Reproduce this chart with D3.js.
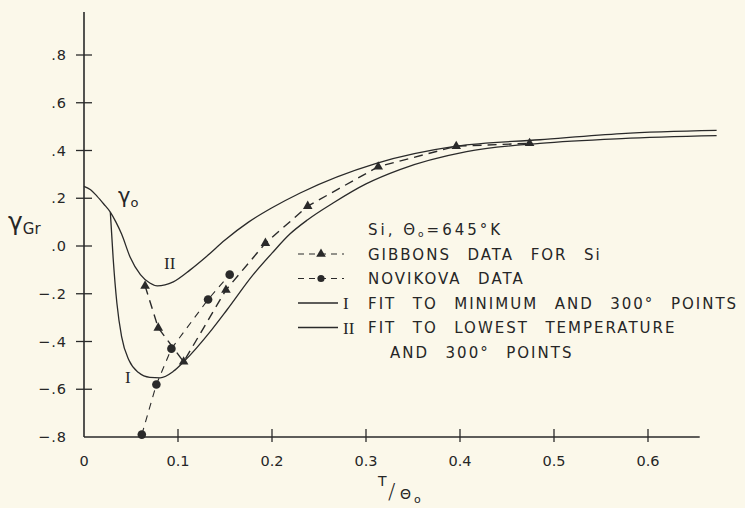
<!DOCTYPE html>
<html>
<head>
<meta charset="utf-8">
<script src="https://cdn.jsdelivr.net/npm/d3@7"></script>
<style>
  html, body { margin: 0; padding: 0; background: #fbf8ea; }
  svg { display: block; }
  text { fill: #262626; }
</style>
</head>
<body>
<div id="chart"></div>
<script>
// curve gamma_0, shared by both fits, then the two branches
const gammaZero = [[0, 0.25], [0.007, 0.236], [0.014, 0.208], [0.021, 0.176], [0.028, 0.142]];
const fitTwo = [[0.028, 0.142], [0.034, 0.10], [0.040, 0.05], [0.049, -0.046], [0.060, -0.12],
  [0.070, -0.155], [0.078, -0.167], [0.095, -0.15], [0.113, -0.10], [0.130, -0.045],
  [0.150, 0.025], [0.175, 0.10], [0.200, 0.16], [0.230, 0.222], [0.311, 0.346],
  [0.396, 0.418], [0.485, 0.445], [0.572, 0.471], [0.673, 0.484]];
const fitOne = [[0.028, 0.142], [0.031, -0.05], [0.035, -0.24], [0.040, -0.38], [0.048, -0.48],
  [0.058, -0.53], [0.070, -0.55], [0.081, -0.552], [0.095, -0.525], [0.106, -0.485],
  [0.136, -0.35], [0.152, -0.268], [0.180, -0.12], [0.200, -0.03], [0.219, 0.05],
  [0.238, 0.11], [0.265, 0.18], [0.300, 0.26], [0.336, 0.32], [0.407, 0.395],
  [0.485, 0.43], [0.572, 0.45], [0.673, 0.462]];
const gibbons = [[0.065, -0.167], [0.079, -0.343], [0.106, -0.485], [0.151, -0.184],
  [0.193, 0.012], [0.238, 0.167], [0.313, 0.332], [0.396, 0.418], [0.474, 0.43]];
const novikova = [[0.0615, -0.79], [0.077, -0.58], [0.093, -0.43], [0.132, -0.224], [0.155, -0.12]];

const xTicks = [0, 0.1, 0.2, 0.3, 0.4, 0.5, 0.6];
const xTickLabels = ["0", "0.1", "0.2", "0.3", "0.4", "0.5", "0.6"];
const yTicks = [-0.8, -0.6, -0.4, -0.2, 0, 0.2, 0.4, 0.6, 0.8];
const yTickLabels = ["\u2212.8", "\u2212.6", "\u2212.4", "\u2212.2", ".0", ".2", ".4", ".6", ".8"];

const legendRows = [
  { kind: "tri", label: "GIBBONS  DATA  FOR  Si" },
  { kind: "dot", label: "NOVIKOVA  DATA" },
  { kind: "one", label: "FIT  TO  MINIMUM  AND  300\u00b0  POINTS" },
  { kind: "two", label: "FIT  TO  LOWEST  TEMPERATURE" }
];

const width = 745, height = 508;
const ink = "#2a2a2a";
const sans = "DejaVu Sans, sans-serif";
const serif = "Liberation Serif, serif";

const svg = d3.select("#chart").append("svg")
  .attr("width", width)
  .attr("height", height)
  .style("font-family", sans);

svg.append("rect").attr("width", width).attr("height", height).attr("fill", "#fbf8ea");

const x = d3.scaleLinear().domain([0, 0.6]).range([84, 648]);
const y = d3.scaleLinear().domain([-0.8, 0.8]).range([437, 55]);

// axis lines, ticks cross the axis like the hand-drawn original
svg.append("line")
  .attr("x1", x(0)).attr("x2", x(0))
  .attr("y1", 12).attr("y2", y(-0.8))
  .attr("stroke", ink).attr("stroke-width", 1.6);
svg.append("line")
  .attr("x1", x(0)).attr("x2", x(0.655))
  .attr("y1", y(-0.8)).attr("y2", y(-0.8))
  .attr("stroke", ink).attr("stroke-width", 1.6);

svg.selectAll(".ytick").data(yTicks.filter(d => d > -0.8)).enter().append("line")
  .attr("x1", x(0) - 8).attr("x2", x(0) + 8)
  .attr("y1", d => y(d)).attr("y2", d => y(d))
  .attr("stroke", ink).attr("stroke-width", 1.3);
svg.selectAll(".xtick").data(xTicks.filter(d => d > 0)).enter().append("line")
  .attr("x1", d => x(d)).attr("x2", d => x(d))
  .attr("y1", y(-0.8) - 8).attr("y2", y(-0.8) + 5)
  .attr("stroke", ink).attr("stroke-width", 1.3);

svg.selectAll(".ylab").data(yTicks).enter().append("text")
  .attr("x", 67).attr("y", d => y(d) + 5)
  .attr("text-anchor", "end")
  .attr("font-size", 14.5)
  .attr("letter-spacing", 1)
  .text((d, i) => yTickLabels[i]);

svg.selectAll(".xlab").data(xTicks).enter().append("text")
  .attr("x", d => x(d)).attr("y", 466)
  .attr("text-anchor", "middle")
  .attr("font-size", 14.5)
  .text((d, i) => xTickLabels[i]);

// curves
const smooth = d3.line().x(d => x(d[0])).y(d => y(d[1])).curve(d3.curveMonotoneX);
const straight = d3.line().x(d => x(d[0])).y(d => y(d[1]));

svg.append("path").attr("d", smooth(gammaZero.concat(fitTwo.slice(1))))
  .attr("fill", "none").attr("stroke", ink).attr("stroke-width", 1.3);
svg.append("path").attr("d", smooth(fitOne))
  .attr("fill", "none").attr("stroke", ink).attr("stroke-width", 1.3);

svg.append("path").attr("d", straight(gibbons))
  .attr("fill", "none").attr("stroke", ink).attr("stroke-width", 1.4)
  .attr("stroke-dasharray", "9,6");
svg.append("path").attr("d", straight(novikova))
  .attr("fill", "none").attr("stroke", ink).attr("stroke-width", 1.1)
  .attr("stroke-dasharray", "7,6");

const tri = d3.symbol().type(d3.symbolTriangle).size(40);
svg.selectAll(".tri").data(gibbons).enter().append("path")
  .attr("d", tri)
  .attr("transform", d => `translate(${x(d[0])},${y(d[1])})`)
  .attr("fill", ink);
svg.selectAll(".dot").data(novikova).enter().append("circle")
  .attr("cx", d => x(d[0])).attr("cy", d => y(d[1]))
  .attr("r", 4.3)
  .attr("fill", ink);

// curve labels
const g0 = svg.append("text").attr("x", 118).attr("y", 203).attr("font-size", 21);
g0.append("tspan").text("\u03b3");
g0.append("tspan").attr("font-size", 13).attr("dy", 4).text("o");
svg.append("text").attr("x", 164).attr("y", 269).style("font-family", serif)
  .attr("font-size", 17).text("II");
svg.append("text").attr("x", 125).attr("y", 383).style("font-family", serif)
  .attr("font-size", 17).text("I");

// axis titles
const yt = svg.append("text").attr("x", 8).attr("y", 230).attr("font-size", 25);
yt.append("tspan").text("\u03b3");
yt.append("tspan").attr("font-size", 15).attr("dy", 4).text("Gr");

svg.append("text").attr("x", 378).attr("y", 486).attr("font-size", 14).text("T");
svg.append("text").attr("x", 388).attr("y", 499).attr("font-size", 22).style("font-weight", 300).text("/");
svg.append("text").attr("x", 400).attr("y", 499).attr("font-size", 14).text("\u0398");
svg.append("text").attr("x", 414).attr("y", 503).attr("font-size", 11).text("o");

// legend
const lx = 298, ly0 = 254, lstep = 24.5, tx = 368;
const title = svg.append("text").attr("x", tx).attr("y", 235).attr("font-size", 15).attr("letter-spacing", 3);
title.append("tspan").text("Si, \u0398");
title.append("tspan").attr("font-size", 9).attr("dy", 2).text("o");
title.append("tspan").attr("dy", -2).text("=645\u00b0K");

legendRows.forEach((r, i) => {
  const cy = ly0 + i * lstep;
  if (r.kind === "tri" || r.kind === "dot") {
    svg.append("line").attr("x1", lx).attr("x2", lx + 46).attr("y1", cy).attr("y2", cy)
      .attr("stroke", ink).attr("stroke-width", 1.2).attr("stroke-dasharray", "6,5");
    if (r.kind === "tri") {
      svg.append("path").attr("d", tri).attr("transform", `translate(${lx + 23},${cy})`).attr("fill", ink);
    } else {
      svg.append("circle").attr("cx", lx + 23).attr("cy", cy).attr("r", 3.6).attr("fill", ink);
    }
  } else {
    svg.append("line").attr("x1", lx).attr("x2", lx + 40).attr("y1", cy).attr("y2", cy)
      .attr("stroke", ink).attr("stroke-width", 1.3);
    svg.append("text").attr("x", lx + 45).attr("y", cy + 6).style("font-family", serif)
      .attr("font-size", 17).text(r.kind === "one" ? "I" : "II");
  }
  svg.append("text").attr("x", tx).attr("y", cy + 5.5).attr("font-size", 15)
    .attr("letter-spacing", 2).attr("word-spacing", 1.5).style("white-space", "pre")
    .text(r.label);
});
svg.append("text").attr("x", 390).attr("y", ly0 + 4 * lstep + 5.5).attr("font-size", 15)
  .attr("letter-spacing", 2).attr("word-spacing", 1.5).style("white-space", "pre")
  .text("AND  300\u00b0  POINTS");
</script>
</body>
</html>
